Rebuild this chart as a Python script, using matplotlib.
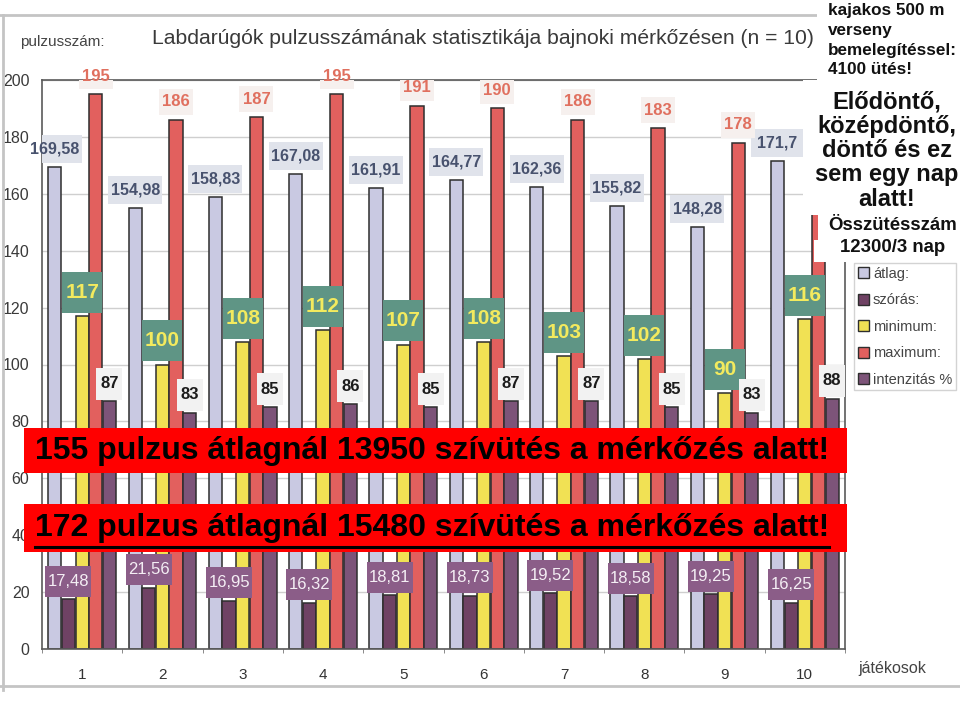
import matplotlib
matplotlib.use("Agg")
import matplotlib.pyplot as plt
import numpy as np
from matplotlib.patches import Rectangle, Patch
from matplotlib.lines import Line2D

# Data (n = 10 players)
players = [1, 2, 3, 4, 5, 6, 7, 8, 9, 10]
atlag = [169.58, 154.98, 158.83, 167.08, 161.91, 164.77, 162.36, 155.82, 148.28, 171.7]
szoras = [17.48, 21.56, 16.95, 16.32, 18.81, 18.73, 19.52, 18.58, 19.25, 16.25]
minimum = [117, 100, 108, 112, 107, 108, 103, 102, 90, 116]
maximum = [195, 186, 187, 195, 191, 190, 186, 183, 178, 187]  # last one hidden by the note
intenzitas = [87, 83, 85, 86, 85, 87, 87, 85, 83, 88]

y_ticks = [0, 20, 40, 60, 80, 100, 120, 140, 160, 180, 200]
series_names = ["átlag:", "szórás:", "minimum:", "maximum:", "intenzitás %"]

colors = {
    "atlag": "#c9c9e2",
    "szoras": "#6f4264",
    "minimum": "#f1e154",
    "maximum": "#e2605e",
    "intenzitas": "#7d5479",
}

# notes pasted over the scan
kajak_lines = ["kajakos 500 m", "verseny", "bemelegítéssel:", "4100 ütés!"]
dontok_lines = ["Elődöntő,", "középdöntő,", "döntő és ez", "sem egy nap", "alatt!"]
banner_1 = "155 pulzus átlagnál 13950 szívütés a mérkőzés alatt!"
banner_2 = "172 pulzus átlagnál 15480 szívütés a mérkőzés alatt!"

plt.rcParams["font.family"] = ["Liberation Sans", "DejaVu Sans"]

W, H = 960, 701


def fx(px):
    return px / W


def fy(py):
    return 1 - py / H


fig = plt.figure(figsize=(9.6, 7.01), dpi=100)
ax_l, ax_r, ax_b, ax_t = 42, 845, 649, 80
ax = fig.add_axes([fx(ax_l), fy(ax_b), fx(ax_r) - fx(ax_l), fy(ax_t) - fy(ax_b)])
ax.set_xlim(0.5, 10.5)
ax.set_ylim(0, 200)

# pixels per data unit, used to size the label boxes
ppx = (ax_r - ax_l) / 10.0
ppy = (ax_b - ax_t) / 200.0

x = np.array(players, dtype=float)
step = 0.17
width = 0.165
series = [
    (atlag, colors["atlag"]),
    (szoras, colors["szoras"]),
    (minimum, colors["minimum"]),
    (maximum, colors["maximum"]),
    (intenzitas, colors["intenzitas"]),
]
for i, (vals, col) in enumerate(series):
    ax.bar(x + (i - 2) * step, vals, width=width, color=col,
           edgecolor="#2e2e2e", linewidth=1.1, zorder=2)


# value labels in little boxes, like the scanned original
def label(xs, vals, fmt, dy, tcol, bcol, size, box_w, box_h, weight="bold"):
    bw, bh = box_w / ppx, box_h / ppy
    for xi, v in zip(xs, vals):
        yc = v + dy
        ax.add_patch(Rectangle((xi - bw / 2, yc - bh / 2), bw, bh, fc=bcol, ec="none", zorder=3))
        ax.text(xi, yc, fmt(v), ha="center", va="center", color=tcol,
                fontsize=size, fontweight=weight, zorder=4)


def comma(v):
    s = f"{v:.2f}"
    if s.endswith("0"):
        s = s[:-1]
    return s.replace(".", ",")


label(x - 2 * step, atlag, comma, 6.3, "#48526e", "#e0e3eb", 11.5, 54, 28)
label(x - 1 * step, szoras, comma, 6.3, "#f4eef4", "#8b5d88", 12, 46, 31, weight="normal")
label(x, minimum, lambda v: f"{v}", 8.3, "#f3ea5e", "#5f9585", 15, 40, 41)
label(x[:-1] + step, maximum[:-1], lambda v: f"{v}", 6.3, "#e0705f", "#f6f0ee", 12, 34, 26)
label(x + 2 * step, intenzitas, lambda v: f"{v}", 6.3, "#1c1c1c", "#f2f2f2", 12, 26, 32)

ax.set_yticks(y_ticks)
ax.set_xticks(x)
ax.set_xticks(np.arange(0.5, 10.6, 1), minor=True)
ax.tick_params(axis="y", length=0, pad=9, labelsize=11.5, labelcolor="#3a3a3a")
ax.tick_params(axis="x", which="major", length=0, pad=14, labelsize=11, labelcolor="#333333")
ax.tick_params(axis="x", which="minor", length=3, direction="out", color="#777777")
ax.yaxis.grid(True, color="#cfcfcf", linewidth=1)
ax.set_axisbelow(True)
for s in ax.spines.values():
    s.set_color("#5a5a5a")
    s.set_linewidth(1.2)

# chart titles of the scan
fig.text(fx(20), fy(42), "pulzusszám:", fontsize=11, color="#444444", va="center")
fig.text(fx(152), fy(38), "Labdarúgók pulzusszámának statisztikája bajnoki mérkőzésen (n = 10)",
         fontsize=15.2, color="#3a3a3a", va="center")
fig.text(fx(858), fy(668), "játékosok", fontsize=11.5, color="#444444", va="center")

# scan frame lines
fig.add_artist(Line2D([0, fx(817)], [fy(15), fy(15)], color="#c4c4c4", lw=2))
fig.add_artist(Line2D([fx(3), fx(3)], [fy(15), fy(690)], color="#c4c4c4", lw=2))
fig.add_artist(Line2D([0, 1], [fy(686), fy(686)], color="#c4c4c4", lw=2))

# legend
handles = [Patch(fc=c, ec="#2e2e2e", lw=1) for c in colors.values()]
fig.legend(handles, series_names, loc="upper left", bbox_to_anchor=(fx(854), fy(263)),
           fontsize=10.5, frameon=True, fancybox=False, edgecolor="#c8c8c8",
           handlelength=0.8, handleheight=0.8, handletextpad=0.25, labelspacing=0.86,
           borderpad=0.25, borderaxespad=0, labelcolor="#444444")

# white note boxes pasted on top right
for x0, y0, x1, y1 in [(817, 0, 960, 80), (803, 80, 960, 215), (818, 215, 960, 240), (814, 240, 960, 262)]:
    fig.add_artist(Rectangle((fx(x0), fy(y1)), fx(x1) - fx(x0), fy(y0) - fy(y1),
                             transform=fig.transFigure, fc="white", ec="none", zorder=5))

for line, base in zip(kajak_lines, [15, 35, 55, 74]):
    fig.text(fx(828), fy(base), line, fontsize=12.3, fontweight="bold", va="baseline",
             ha="left", zorder=6, color="#111111")
for line, base in zip(dontok_lines, [108, 132.5, 157, 181.5, 206]):
    fig.text(fx(887), fy(base), line, fontsize=17, fontweight="bold", va="baseline",
             ha="center", zorder=6, color="#111111")
fig.text(fx(893), fy(230), "Összütésszám", fontsize=13.4, fontweight="bold", va="baseline",
         ha="center", zorder=6, color="#111111")
fig.text(fx(893), fy(252), "12300/3 nap", fontsize=13.4, fontweight="bold", va="baseline",
         ha="center", zorder=6, color="#111111")

# red banners
for y0, y1 in [(428, 473), (504, 552)]:
    fig.add_artist(Rectangle((fx(24), fy(y1)), fx(847) - fx(24), fy(y0) - fy(y1),
                             transform=fig.transFigure, fc="#ff0000", ec="none", zorder=5))

fig.text(fx(35), fy(451), banner_1, fontsize=23, fontweight="bold", va="center", ha="left",
         zorder=6, color="black")
t2 = fig.text(fx(35), fy(528), banner_2, fontsize=23, fontweight="bold", va="center", ha="left",
              zorder=6, color="black")

# underline for the second banner
fig.canvas.draw()
bb = t2.get_window_extent().transformed(fig.transFigure.inverted())
fig.add_artist(Line2D([bb.x0, bb.x1], [fy(547), fy(547)], color="black", lw=2.2, zorder=7))

fig.savefig("out.png", dpi=100)
